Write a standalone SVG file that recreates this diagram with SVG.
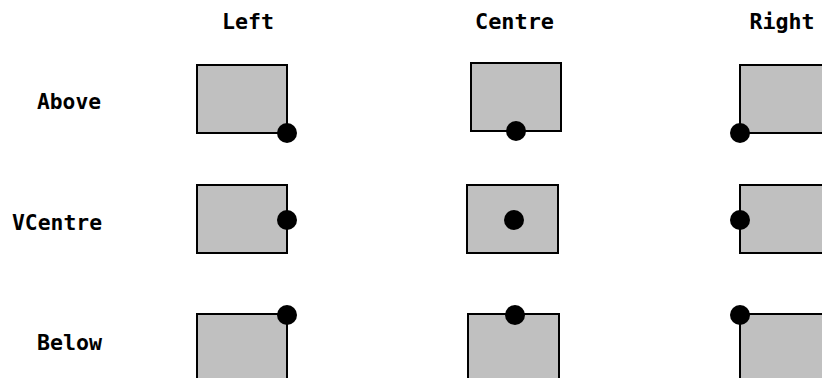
<svg xmlns="http://www.w3.org/2000/svg" width="822" height="378" viewBox="0 0 822 378">
<style>
.box{fill:#c0c0c0;stroke:#000;stroke-width:2}
.dot{fill:#000}
.lbl{font-family:"DejaVu Sans Mono","Liberation Mono",monospace;font-weight:bold;font-size:22px;fill:#000}
.col{text-anchor:middle}
.row{text-anchor:end}
</style>
<rect width="822" height="378" fill="#fff"/>
<g id="labels">
<text class="lbl col" x="248" y="29" textLength="52" lengthAdjust="spacingAndGlyphs">Left</text>
<text class="lbl col" x="514.5" y="29" textLength="79" lengthAdjust="spacingAndGlyphs">Centre</text>
<text class="lbl col" x="782" y="29" textLength="65" lengthAdjust="spacingAndGlyphs">Right</text>
<text class="lbl row" x="101" y="109" textLength="64" lengthAdjust="spacingAndGlyphs">Above</text>
<text class="lbl row" x="102" y="230" textLength="90" lengthAdjust="spacingAndGlyphs">VCentre</text>
<text class="lbl row" x="102" y="350" textLength="65" lengthAdjust="spacingAndGlyphs">Below</text>
</g>
<g id="n-above-left"><rect class="box" x="197" y="65" width="90" height="68"/><circle class="dot" cx="287" cy="133" r="10"/></g>
<g id="n-above-centre"><rect class="box" x="471" y="63" width="90" height="68"/><circle class="dot" cx="516" cy="131" r="10"/></g>
<g id="n-above-right"><rect class="box" x="740" y="65" width="90" height="68"/><circle class="dot" cx="740" cy="133" r="10"/></g>
<g id="n-vcentre-left"><rect class="box" x="197" y="185" width="90" height="68"/><circle class="dot" cx="287" cy="220" r="10"/></g>
<g id="n-vcentre-centre"><rect class="box" x="467" y="185" width="91" height="68"/><circle class="dot" cx="514" cy="220" r="10"/></g>
<g id="n-vcentre-right"><rect class="box" x="740" y="185" width="90" height="68"/><circle class="dot" cx="740" cy="220" r="10"/></g>
<g id="n-below-left"><rect class="box" x="197" y="314" width="90" height="68"/><circle class="dot" cx="287" cy="315" r="10"/></g>
<g id="n-below-centre"><rect class="box" x="468" y="314" width="91" height="68"/><circle class="dot" cx="515" cy="315" r="10"/></g>
<g id="n-below-right"><rect class="box" x="740" y="314" width="90" height="68"/><circle class="dot" cx="740" cy="315" r="10"/></g>
<g id="connectors"/>
</svg>
